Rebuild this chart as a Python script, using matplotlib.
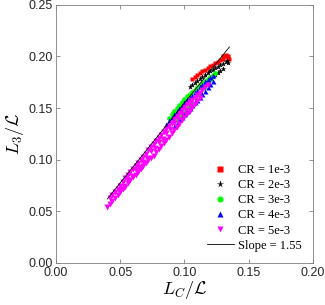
import matplotlib
matplotlib.use('Agg')
import matplotlib.pyplot as plt

plt.rcParams['mathtext.fontset'] = 'cm'
plt.rcParams['font.family'] = ['Liberation Sans', 'DejaVu Sans']

# --- data ---
labels = ['CR = 1e-3', 'CR = 2e-3', 'CR = 3e-3', 'CR = 4e-3', 'CR = 5e-3']

# CR = 1e-3 (red)
x_cr1 = [0.106, 0.108, 0.110, 0.112, 0.114, 0.116, 0.118, 0.120, 0.122, 0.124,
         0.126, 0.128, 0.130, 0.132, 0.134,
         0.130, 0.132, 0.134, 0.135]
y_cr1 = [0.178, 0.180, 0.182, 0.184, 0.186, 0.187, 0.189, 0.191, 0.192, 0.194,
         0.195, 0.197, 0.198, 0.200, 0.199,
         0.200, 0.201, 0.200, 0.198]

# CR = 2e-3 (black)
x_cr2 = [0.104, 0.106, 0.108, 0.110, 0.112, 0.114, 0.116, 0.118, 0.120, 0.122,
         0.124, 0.126, 0.128, 0.130, 0.132,
         0.110, 0.112, 0.114, 0.116, 0.118, 0.120, 0.122, 0.124, 0.126, 0.128,
         0.130, 0.133, 0.134]
y_cr2 = [0.170, 0.172, 0.174, 0.176, 0.178, 0.180, 0.182, 0.184, 0.186, 0.187,
         0.189, 0.190, 0.192, 0.193, 0.195,
         0.168, 0.170, 0.172, 0.174, 0.176, 0.178, 0.180, 0.182, 0.184, 0.186,
         0.188, 0.196, 0.194]

# CR = 3e-3 (green)
x_cr3 = [0.088, 0.090, 0.092, 0.094, 0.096, 0.098, 0.100, 0.102, 0.104, 0.106,
         0.108, 0.110, 0.112, 0.114, 0.116, 0.118, 0.120, 0.122, 0.124,
         0.094, 0.097, 0.100, 0.103, 0.106, 0.109, 0.112, 0.115, 0.118, 0.121]
y_cr3 = [0.140, 0.144, 0.147, 0.150, 0.153, 0.156, 0.159, 0.162, 0.164, 0.166,
         0.168, 0.170, 0.172, 0.174, 0.176, 0.178, 0.180, 0.182, 0.184,
         0.138, 0.142, 0.146, 0.151, 0.154, 0.160, 0.164, 0.169, 0.173, 0.178]

# CR = 4e-3 (blue)
x_cr4 = [0.086, 0.088, 0.090, 0.092, 0.094, 0.096, 0.098, 0.100, 0.102, 0.104,
         0.106, 0.108, 0.110, 0.112, 0.114, 0.116, 0.118, 0.120, 0.122,
         0.092, 0.094, 0.096, 0.098, 0.100, 0.102, 0.104, 0.106, 0.108, 0.110,
         0.112, 0.114, 0.116, 0.118, 0.120, 0.122]
y_cr4 = [0.135, 0.138, 0.141, 0.144, 0.147, 0.150, 0.153, 0.156, 0.159, 0.161,
         0.163, 0.166, 0.168, 0.171, 0.173, 0.176, 0.178, 0.180, 0.182,
         0.133, 0.136, 0.139, 0.141, 0.144, 0.147, 0.150, 0.153, 0.156, 0.158,
         0.161, 0.164, 0.167, 0.170, 0.173, 0.176]

# CR = 5e-3 (magenta), three strands
x_cr5 = [0.042, 0.044, 0.046, 0.048, 0.050, 0.052, 0.054, 0.056, 0.058, 0.060,
         0.062, 0.064, 0.066, 0.068, 0.070, 0.072, 0.074, 0.076, 0.078, 0.080,
         0.082, 0.084, 0.086, 0.088, 0.090, 0.092, 0.094, 0.096, 0.098, 0.100,
         0.102, 0.104, 0.106, 0.108, 0.110, 0.112, 0.114, 0.116, 0.118,
         0.040, 0.042, 0.044, 0.046, 0.048, 0.050, 0.052, 0.054, 0.056, 0.058,
         0.060, 0.062, 0.064, 0.066, 0.068, 0.070, 0.072, 0.074, 0.076, 0.078,
         0.080, 0.082, 0.084, 0.086, 0.088, 0.090, 0.092, 0.094, 0.096, 0.098,
         0.100, 0.102, 0.104, 0.106, 0.108, 0.110, 0.112,
         0.050, 0.053, 0.056, 0.059, 0.062, 0.065, 0.068, 0.071, 0.074, 0.077,
         0.080, 0.083, 0.086, 0.089, 0.092, 0.095, 0.098, 0.101, 0.104]
y_cr5 = [0.063, 0.066, 0.069, 0.072, 0.075, 0.078, 0.082, 0.085, 0.088, 0.091,
         0.094, 0.097, 0.100, 0.103, 0.106, 0.109, 0.112, 0.115, 0.118, 0.121,
         0.124, 0.127, 0.130, 0.133, 0.136, 0.139, 0.142, 0.145, 0.148, 0.151,
         0.154, 0.156, 0.158, 0.160, 0.163, 0.165, 0.168, 0.170, 0.172,
         0.054, 0.057, 0.060, 0.063, 0.066, 0.069, 0.072, 0.074, 0.077, 0.080,
         0.083, 0.085, 0.088, 0.091, 0.094, 0.097, 0.100, 0.102, 0.104, 0.107,
         0.110, 0.113, 0.116, 0.119, 0.122, 0.126, 0.129, 0.132, 0.135, 0.138,
         0.141, 0.144, 0.147, 0.151, 0.154, 0.157, 0.160,
         0.071, 0.075, 0.080, 0.084, 0.090, 0.093, 0.098, 0.102, 0.108, 0.111,
         0.117, 0.120, 0.126, 0.130, 0.136, 0.139, 0.144, 0.148, 0.152]

slope = 1.55
x_fit = [0.04, 0.135]

fig = plt.figure(figsize=(3.25, 3.05), dpi=100)
ax = fig.add_axes([0.172, 0.138, 0.791, 0.846])

ax.plot(x_cr1, y_cr1, 's', color='#ff0000', ms=2.8, mec='none', label=labels[0])
ax.plot(x_cr2, y_cr2, '*', color='black', ms=4.2, mec='none', label=labels[1])
ax.plot(x_cr3, y_cr3, 'o', color='#00ff00', ms=3.4, mec='none', label=labels[2])
ax.plot(x_cr4, y_cr4, '^', color='#0000ff', ms=3.6, mec='none', label=labels[3])
ax.plot(x_cr5, y_cr5, 'v', color='#ff00ff', ms=3.7, mec='none', label=labels[4])
ax.plot(x_fit, [slope * v for v in x_fit], '-', color='black', lw=0.6,
        label='Slope = 1.55')

ax.set_xlim(0, 0.2)
ax.set_ylim(0, 0.25)
ax.set_xticks([0, 0.05, 0.10, 0.15, 0.20])
ax.set_yticks([0, 0.05, 0.10, 0.15, 0.20, 0.25])
ax.set_xticklabels(['0.00', '0.05', '0.10', '0.15', '0.20'])
ax.set_yticklabels(['0.00', '0.05', '0.10', '0.15', '0.20', '0.25'])
ax.tick_params(direction='in', top=True, right=True, length=3, width=0.6,
               color='#808080', labelsize=9, labelcolor='#262626')
ax.tick_params(axis='x', pad=3)
ax.tick_params(axis='y', pad=2)
for s in ax.spines.values():
    s.set_color('#808080')
    s.set_linewidth(0.6)

ax.set_xlabel(r'$L_C/\mathcal{L}$', fontsize=13, labelpad=0)
ax.set_ylabel(r'$L_3/\mathcal{L}$', fontsize=13, labelpad=2)

leg = ax.legend(loc='lower right', frameon=False, handlelength=2.2,
                handletextpad=0.3, labelspacing=0.25, borderaxespad=0.5,
                prop={'family': 'Liberation Serif', 'size': 9}, markerscale=1.3)

fig.savefig('out.png', dpi=100)
